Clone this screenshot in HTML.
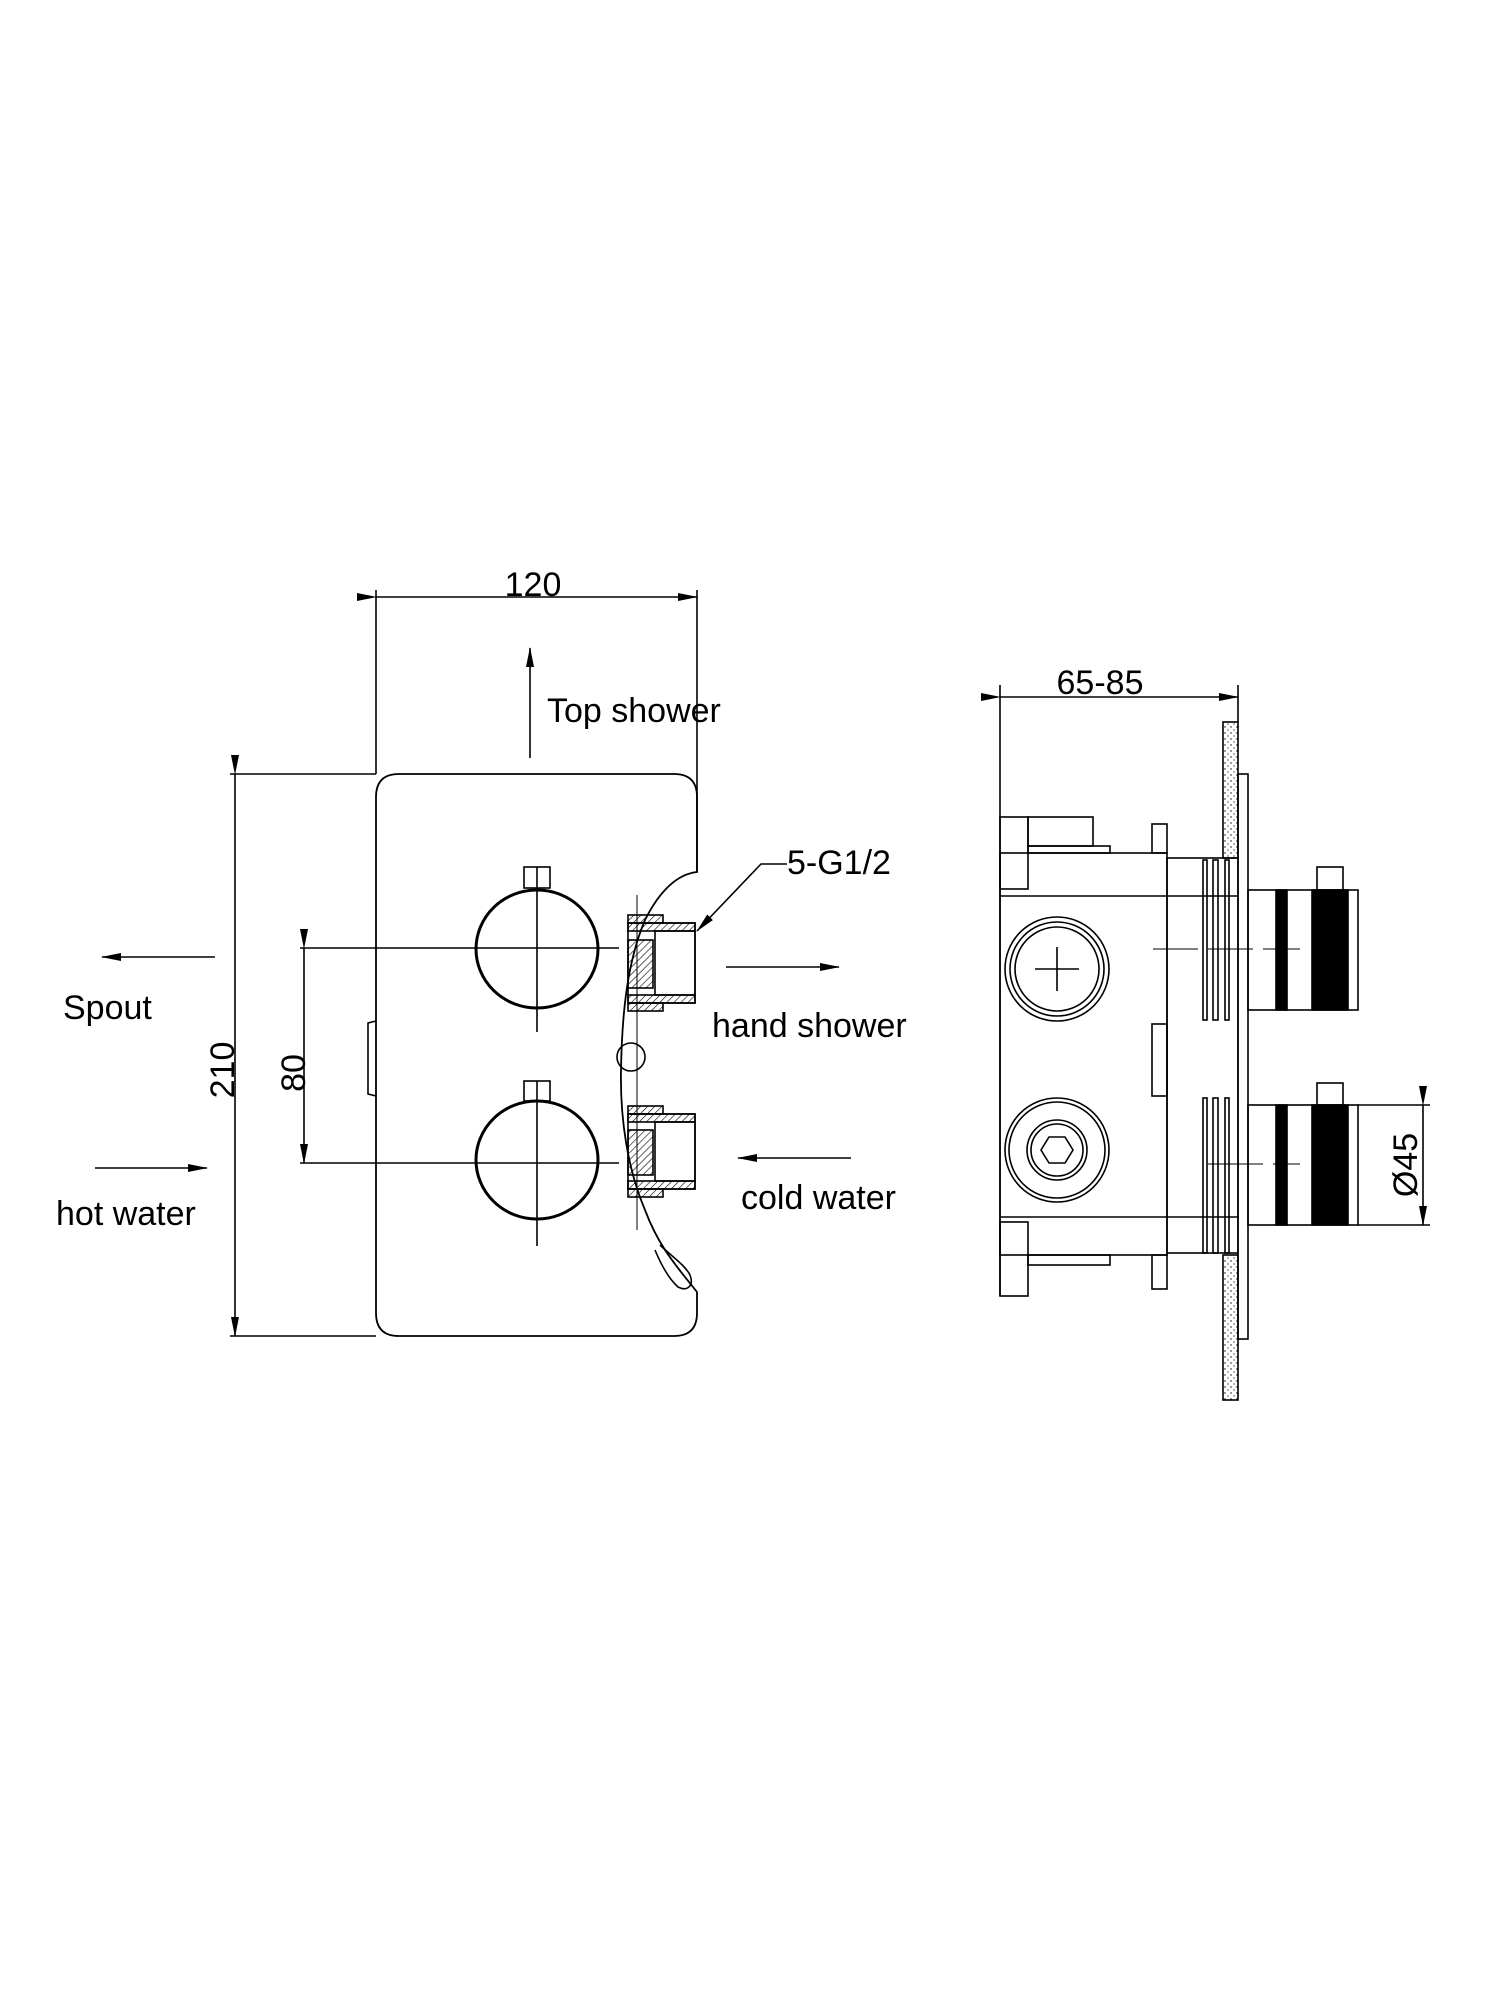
<!DOCTYPE html>
<html><head><meta charset="utf-8"><style>
html,body{margin:0;padding:0;background:#fff}
svg{display:block}
text{font-family:"Liberation Sans",Arial,sans-serif;fill:#000}
</style></head><body>
<svg width="1500" height="2000" viewBox="0 0 1500 2000" xmlns="http://www.w3.org/2000/svg">
<defs>
<marker id="a" markerWidth="20" markerHeight="8" refX="19" refY="4" orient="auto" markerUnits="userSpaceOnUse"><path d="M0,0 L20,4 L0,8 Z" fill="#000"/></marker>
<pattern id="h" width="5" height="5" patternUnits="userSpaceOnUse" patternTransform="rotate(45)"><line x1="0" y1="0" x2="0" y2="5" stroke="#000" stroke-width="1.2"/></pattern>
<pattern id="d" width="6" height="6" patternUnits="userSpaceOnUse"><circle cx="1" cy="1" r="0.7" fill="#000"/><circle cx="4" cy="4" r="0.6" fill="#000"/></pattern>
</defs>
<g fill="none" stroke="#000" stroke-width="1.6">
<!-- LEFT VIEW -->
<line x1="376" y1="590" x2="376" y2="774"/>
<line x1="697" y1="590" x2="697" y2="872"/>
<line x1="376" y1="597" x2="697" y2="597" marker-start="url(#a)" marker-end="url(#a)"/>
<line x1="530" y1="758" x2="530" y2="648" marker-end="url(#a)"/>
<!-- plate -->
<path d="M697,872 L697,797 Q697,774 674,774 L399,774 Q376,774 376,797 L376,1313 Q376,1336 399,1336 L674,1336 Q697,1336 697,1313 L697,1292 C680,1270 660,1250 645,1210 C628,1170 620,1120 621,1070 C622,1010 628,960 645,920 C660,890 678,874 697,872 Z" stroke-width="1.8"/>
<path d="M376,1021 L368,1023 L368,1094 L376,1096"/>
<path d="M660,1245 C670,1255 685,1265 690,1275 C694,1285 688,1292 678,1287 C668,1278 660,1262 655,1250"/>
<path d="M637,895 L637,1230" stroke-width="1"/>
<circle cx="631" cy="1057" r="14"/>
<!-- fittings -->
<rect x="628" y="923" width="67" height="80"/>
<rect x="655" y="931" width="40" height="64"/>
<rect x="628" y="915" width="35" height="8" fill="url(#h)"/>
<rect x="628" y="1003" width="35" height="8" fill="url(#h)"/>
<rect x="628" y="923" width="67" height="8" fill="url(#h)"/>
<rect x="628" y="995" width="67" height="8" fill="url(#h)"/>
<rect x="628" y="940" width="25" height="48" fill="url(#h)"/>
<rect x="628" y="1114" width="67" height="75"/>
<rect x="655" y="1122" width="40" height="59"/>
<rect x="628" y="1106" width="35" height="8" fill="url(#h)"/>
<rect x="628" y="1189" width="35" height="8" fill="url(#h)"/>
<rect x="628" y="1114" width="67" height="8" fill="url(#h)"/>
<rect x="628" y="1181" width="67" height="8" fill="url(#h)"/>
<rect x="628" y="1130" width="25" height="45" fill="url(#h)"/>
<!-- 210 dim -->
<line x1="230" y1="774" x2="376" y2="774"/>
<line x1="230" y1="1336" x2="376" y2="1336"/>
<line x1="235" y1="774" x2="235" y2="1336" marker-start="url(#a)" marker-end="url(#a)"/>
<!-- 80 dim -->
<line x1="300" y1="948" x2="619" y2="948"/>
<line x1="300" y1="1163" x2="619" y2="1163"/>
<line x1="304" y1="948" x2="304" y2="1163" marker-start="url(#a)" marker-end="url(#a)"/>
<!-- knobs -->
<ellipse cx="537" cy="949" rx="61" ry="59" stroke-width="3"/>
<ellipse cx="537" cy="1160" rx="61" ry="59" stroke-width="3"/>
<rect x="524" y="867" width="26" height="21"/>
<rect x="524" y="1081" width="26" height="20"/>
<line x1="537" y1="867" x2="537" y2="1032"/>
<line x1="537" y1="1081" x2="537" y2="1246"/>
<!-- flow arrows -->
<line x1="215" y1="957" x2="102" y2="957" marker-end="url(#a)"/>
<line x1="95" y1="1168" x2="207" y2="1168" marker-end="url(#a)"/>
<line x1="726" y1="967" x2="839" y2="967" marker-end="url(#a)"/>
<line x1="851" y1="1158" x2="738" y2="1158" marker-end="url(#a)"/>
<polyline points="787,864 761,864 697,931" marker-end="url(#a)"/>

<!-- RIGHT VIEW -->
<line x1="1000" y1="685" x2="1000" y2="1296"/>
<line x1="1238" y1="685" x2="1238" y2="722"/>
<line x1="1000" y1="697" x2="1238" y2="697" marker-start="url(#a)" marker-end="url(#a)"/>
<rect x="1223" y="722" width="15" height="136" fill="url(#d)"/>
<rect x="1223" y="1255" width="15" height="145" fill="url(#d)"/>
<rect x="1238" y="774" width="10" height="565"/>
<rect x="1000" y="853" width="167" height="402"/>
<line x1="1000" y1="896" x2="1238" y2="896"/>
<line x1="1000" y1="1217" x2="1238" y2="1217"/>
<rect x="1000" y="817" width="28" height="72"/>
<rect x="1000" y="1222" width="28" height="74"/>
<rect x="1028" y="817" width="65" height="29"/>
<rect x="1028" y="846" width="82" height="7"/>
<rect x="1028" y="1255" width="82" height="10"/>
<rect x="1152" y="824" width="15" height="29"/>
<rect x="1152" y="1255" width="15" height="34"/>
<rect x="1152" y="1024" width="15" height="72"/>
<rect x="1167" y="858" width="71" height="395"/>
<rect x="1203" y="860" width="4" height="160"/><rect x="1213" y="860" width="5" height="160"/><rect x="1225" y="860" width="4" height="160"/>
<rect x="1203" y="1098" width="4" height="155"/><rect x="1213" y="1098" width="5" height="155"/><rect x="1225" y="1098" width="4" height="155"/>
<circle cx="1057" cy="969" r="52"/>
<circle cx="1057" cy="969" r="47"/>
<circle cx="1057" cy="969" r="42"/>
<line x1="1035" y1="969" x2="1079" y2="969"/><line x1="1057" y1="947" x2="1057" y2="991"/>
<circle cx="1057" cy="1150" r="52"/>
<circle cx="1057" cy="1150" r="48"/>
<circle cx="1057" cy="1150" r="30"/>
<circle cx="1057" cy="1150" r="26"/>
<polygon points="1041,1150 1049,1137 1065,1137 1073,1150 1065,1163 1049,1163"/>
<rect x="1248" y="890" width="110" height="120"/>
<rect x="1276" y="890" width="11" height="120" fill="#000"/>
<rect x="1312" y="890" width="36" height="120" fill="#000"/>
<rect x="1317" y="867" width="26" height="23"/>
<rect x="1248" y="1105" width="110" height="120"/>
<rect x="1276" y="1105" width="11" height="120" fill="#000"/>
<rect x="1312" y="1105" width="36" height="120" fill="#000"/>
<rect x="1317" y="1083" width="26" height="22"/>
<line x1="1153" y1="949" x2="1300" y2="949" stroke-dasharray="45,10" stroke-width="1"/>
<line x1="1208" y1="1164" x2="1300" y2="1164" stroke-dasharray="55,10" stroke-width="1"/>
<line x1="1358" y1="1105" x2="1430" y2="1105"/>
<line x1="1358" y1="1225" x2="1430" y2="1225"/>
<line x1="1423" y1="1105" x2="1423" y2="1225" marker-start="url(#a)" marker-end="url(#a)"/>
</g>
<g font-size="34">
<text x="533" y="596" text-anchor="middle">120</text>
<text x="547" y="722">Top shower</text>
<text x="63" y="1019">Spout</text>
<text x="56" y="1225">hot water</text>
<text x="712" y="1037">hand shower</text>
<text x="741" y="1209">cold water</text>
<text x="787" y="874">5-G1/2</text>
<text x="1100" y="694" text-anchor="middle">65-85</text>
<text transform="translate(234,1070) rotate(-90)" text-anchor="middle">210</text>
<text transform="translate(305,1073) rotate(-90)" text-anchor="middle">80</text>
<text transform="translate(1417,1165) rotate(-90)" text-anchor="middle">Ø45</text>
</g>
</svg>
</body></html>
